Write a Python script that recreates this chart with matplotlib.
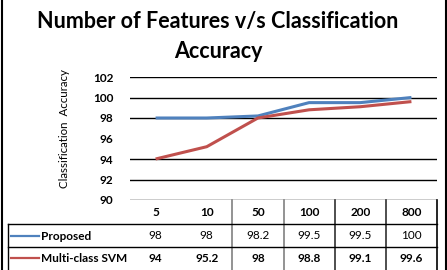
import matplotlib
matplotlib.use("Agg")
import matplotlib.pyplot as plt
from matplotlib.lines import Line2D

features = ["5", "10", "50", "100", "200", "800"]
proposed = [98, 98, 98.2, 99.5, 99.5, 100]
svm = [94, 95.2, 98, 98.8, 99.1, 99.6]
series_names = ["Proposed", "Multi-class SVM"]
y_ticks = [90, 92, 94, 96, 98, 100, 102]

blue = "#4F81BD"
red = "#C0504D"
W, H = 447, 270

plt.rcParams["font.family"] = ["Lato", "DejaVu Sans"]

fig = plt.figure(figsize=(W / 100, H / 100), dpi=100)
ax = fig.add_axes([130 / W, (H - 200) / H, 307 / W, 123 / H])

x = list(range(len(features)))
ax.plot(x, proposed, color=blue, lw=2.2, solid_capstyle="butt")
ax.plot(x, svm, color=red, lw=2.2, solid_capstyle="butt")

ax.set_xlim(-0.5, len(features) - 0.5)
ax.set_ylim(90, 102)
ax.set_yticks(y_ticks)
ax.set_yticklabels([str(t) for t in y_ticks], fontsize=8.5, fontweight="bold")
ax.tick_params(axis="y", length=0, pad=12)
ax.set_xticks([])
for s in ax.spines.values():
    s.set_visible(False)
# gridlines (the 96 one is not drawn in the original)
for t in y_ticks:
    if t != 96:
        ax.axhline(t, color="black", lw=1.0, zorder=0)

# y label sits a bit above the axes centre in the original
fig.text(65 / W, 1 - 129 / H, "Classification  Accuracy", rotation=90,
         ha="center", va="center", fontsize=8.3)

fig.text(218 / W, 1 - 11 / H, "Number of Features v/s Classification\nAccuracy",
         ha="center", va="top", fontsize=15.5, fontweight="bold",
         linespacing=1.55)

# data table below the plot
tr = ax.get_xaxis_transform()
rows_y = [-0.098, -0.29, -0.476]
for i, f in enumerate(features):
    ax.text(i, rows_y[0], f, transform=tr, ha="center", va="center",
            fontsize=8.5, fontweight="bold", clip_on=False)
    ax.text(i, rows_y[1], f"{proposed[i]:g}", transform=tr, ha="center",
            va="center", fontsize=8.5, clip_on=False)
    ax.text(i, rows_y[2], f"{svm[i]:g}", transform=tr, ha="center",
            va="center", fontsize=8.5, fontweight="bold", clip_on=False)

# column separators
for i, c in zip(range(2, len(features) + 1), ["#808080", "#808080", "#303030", "#303030", "black"]):
    ax.add_line(Line2D([i - 0.5, i - 0.5], [0, -0.6], transform=tr,
                       color=c, lw=1.2, clip_on=False))

# row lines and left column (figure coords)
def fline(xs, ys, **kw):
    fig.add_artist(Line2D([v / W for v in xs], [1 - v / H for v in ys],
                          transform=fig.transFigure, **kw))

fline([8, 437], [224, 224], color="black", lw=1.0)
fline([8, 437], [247, 247], color="black", lw=1.0)
fline([8, 8], [224, 272], color="black", lw=1.0)

for name, col, yy in zip(series_names, [blue, red], [236, 258]):
    fline([11, 39], [yy, yy], color=col, lw=1.6)
    fig.text(41 / W, 1 - yy / H, name, ha="left", va="center",
             fontsize=8.5, fontweight="bold")

# outer frame of the chart
fline([1.5, 1.5], [0, 270], color="black", lw=1.5)
fline([445.5, 445.5], [0, 270], color="black", lw=1.5)

fig.savefig("out.png", dpi=100)
